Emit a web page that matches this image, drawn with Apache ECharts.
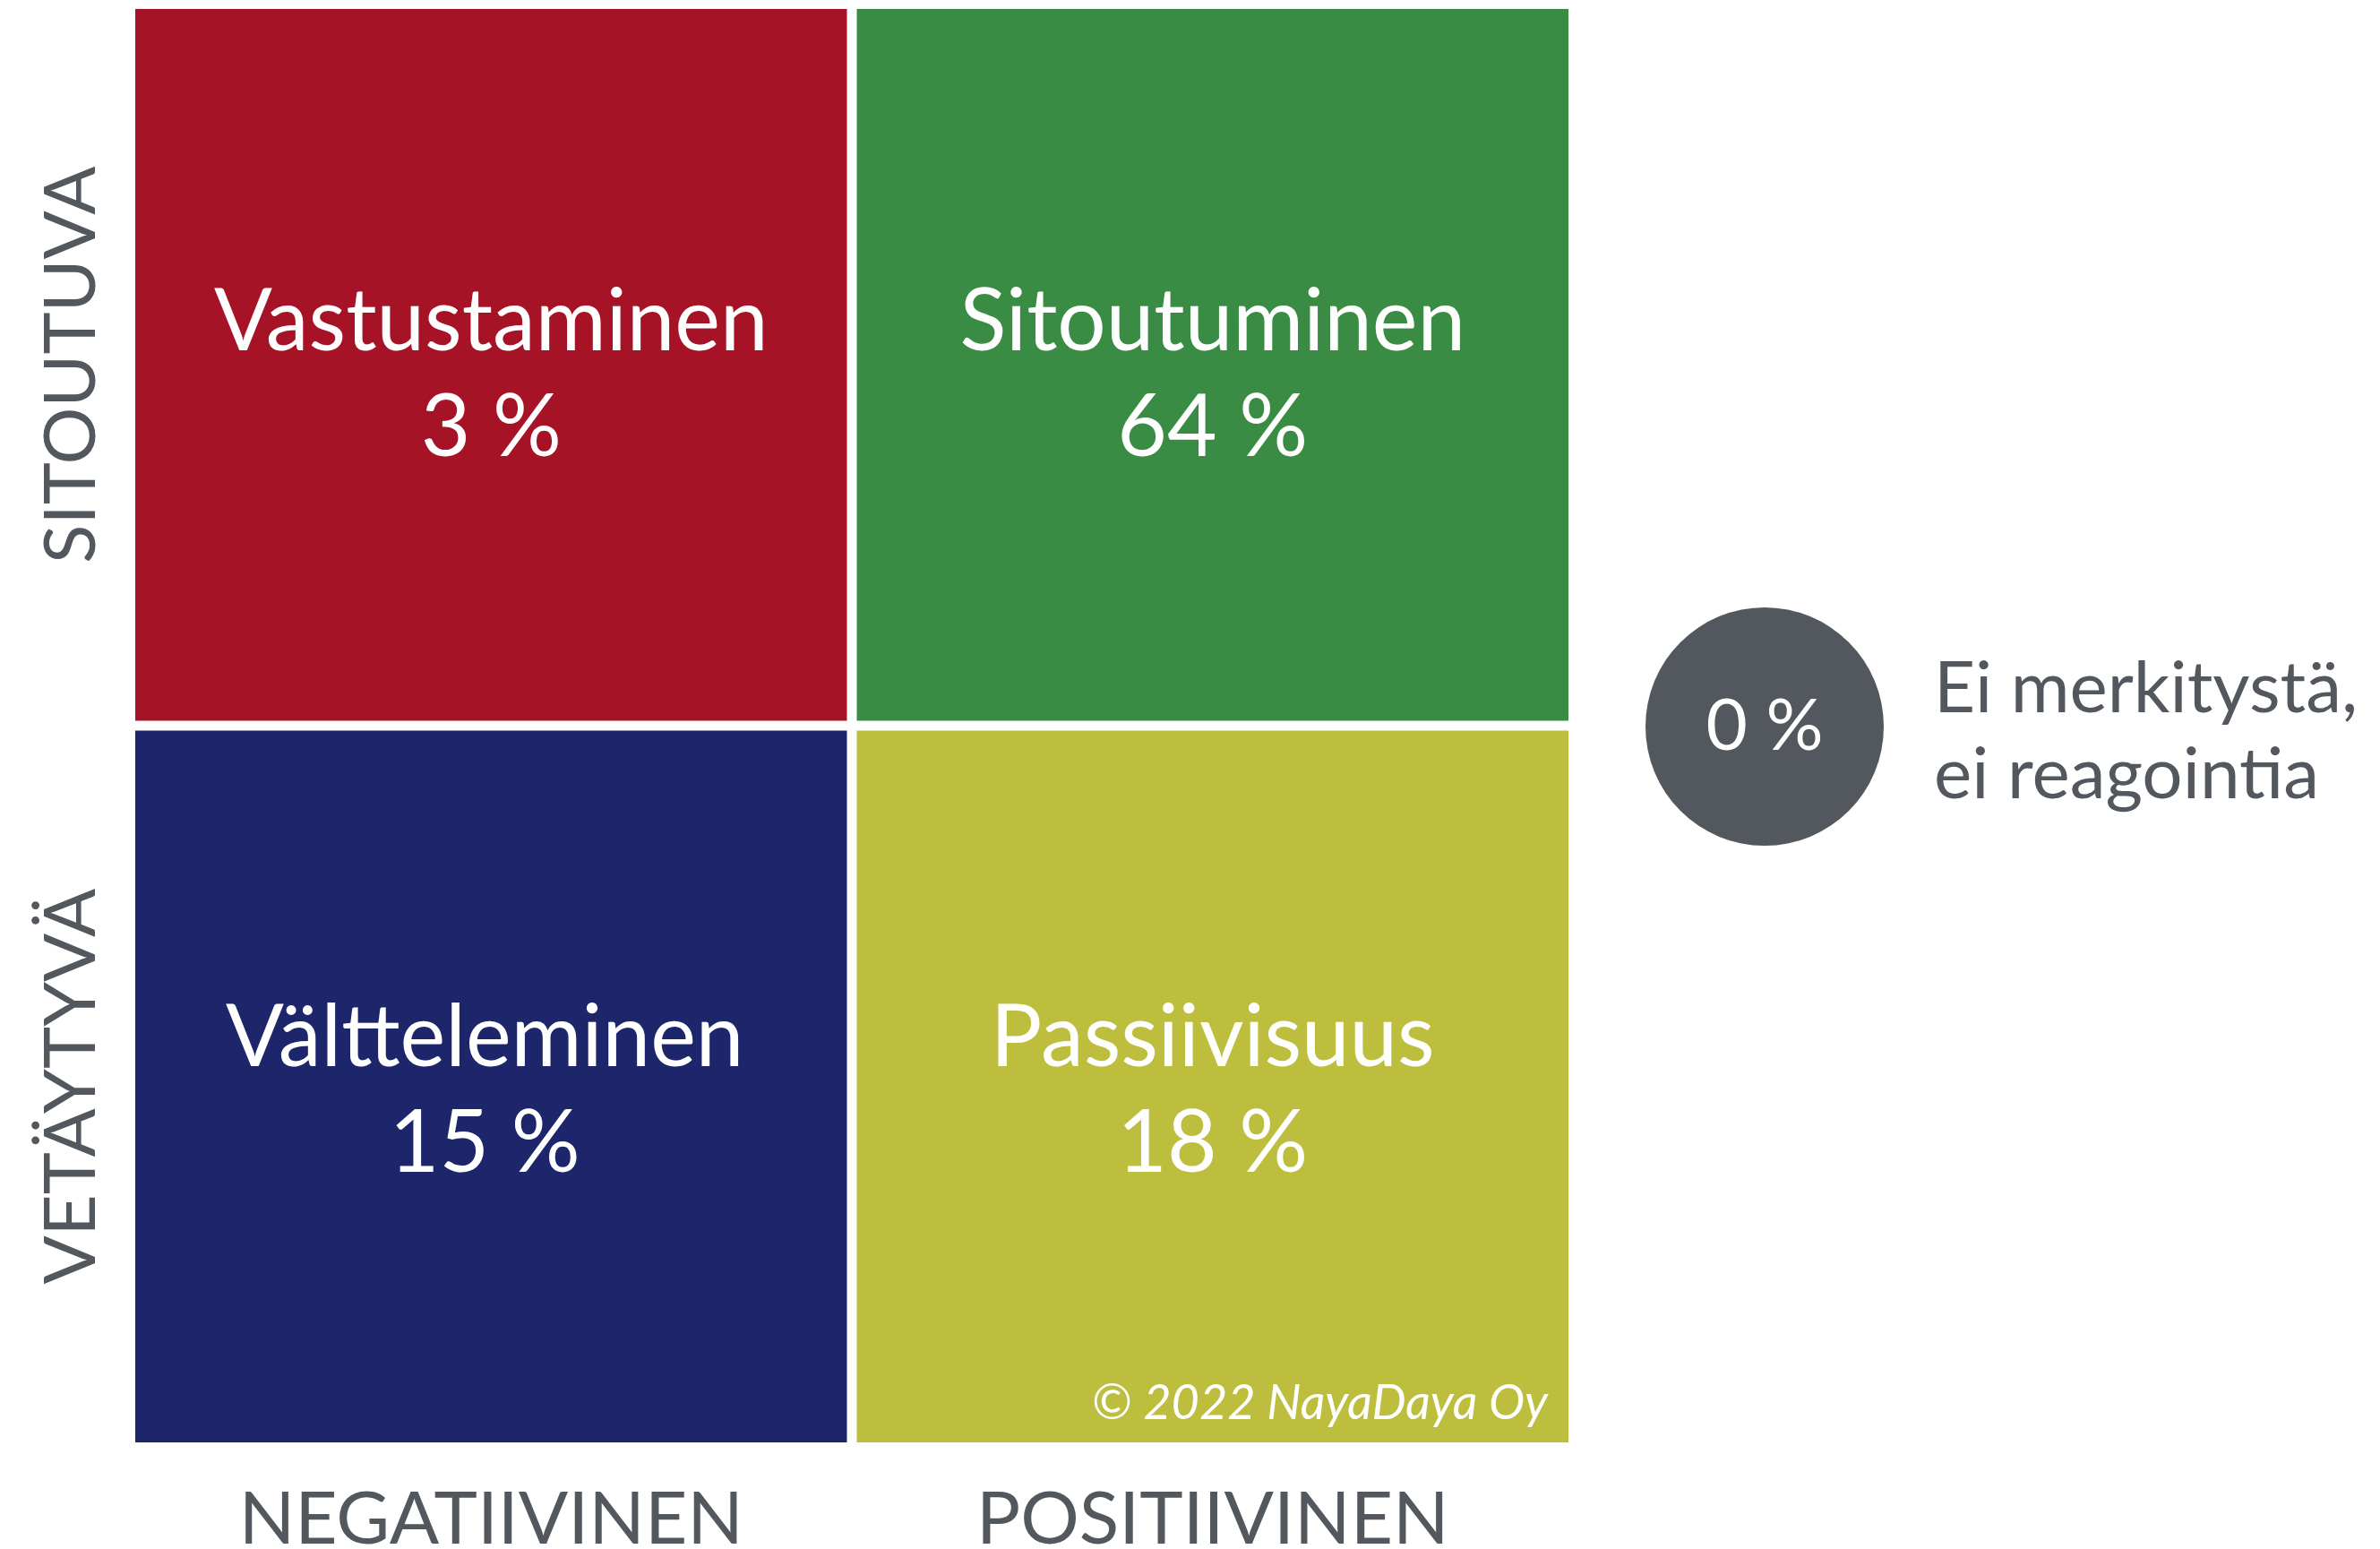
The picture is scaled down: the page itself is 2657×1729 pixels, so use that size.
<!DOCTYPE html>
<html>
<head>
<meta charset="utf-8">
<script src="https://cdn.jsdelivr.net/npm/echarts@6/dist/echarts.min.js"></script>
<style>
  html, body { margin: 0; padding: 0; background: #fff; }
  #chart { width: 2657px; height: 1729px; }
</style>
</head>
<body>
<div id="chart"></div>
<script>
// akselit
const xCats = ['NEGATIIVINEN', 'POSITIIVINEN'];
const yCats = ['VETÄYTYVÄ', 'SITOUTUVA'];

// nelikentän solut
const cellNames = ['Vastustaminen', 'Sitoutuminen', 'Vältteleminen', 'Passiivisuus'];
const cellShares = [3, 64, 15, 18];
const cellCol = [0, 1, 0, 1];
const cellRow = [1, 1, 0, 0];

// ei reagointia -pallo
const noneShare = 0;
const noneLabel = 'Ei merkitystä,\nei reagointia';

const copyright = '© 2022 NayaDaya Oy';

const cellColors = ['#a61326', '#3a8c45', '#1d266a', '#bdbd3e'];
const grey = '#53585f';
const GAP = 11;

let chart = echarts.init(document.getElementById('chart'));

chart.setOption({
  backgroundColor: '#fff',
  animation: false,
  textStyle: { fontFamily: 'Lato' },
  grid: [
    { left: 145.5, top: 4.5, width: 1611, height: 1611, outerBoundsMode: 'none', containLabel: false },
    { left: 1837, top: 678, width: 266, height: 266, outerBoundsMode: 'none', containLabel: false },
  ],
  xAxis: [
    {
      type: 'category',
      gridIndex: 0,
      data: xCats,
      axisLine: { show: false },
      axisTick: { show: false },
      splitLine: { show: false },
      axisLabel: { fontSize: 82, color: grey, fontFamily: 'Lato', margin: 40 },
    },
    { type: 'value', gridIndex: 1, min: -1, max: 1, show: false },
  ],
  yAxis: [
    {
      type: 'category',
      gridIndex: 0,
      data: yCats,
      axisLine: { show: false },
      axisTick: { show: false },
      splitLine: { show: false },
      axisLabel: { fontSize: 80, color: grey, fontFamily: 'Lato', rotate: 90, margin: 25 },
    },
    { type: 'value', gridIndex: 1, min: -1, max: 1, show: false },
  ],
  series: [
    {
      type: 'custom',
      xAxisIndex: 0,
      yAxisIndex: 0,
      data: cellNames.map((n, i) => [cellCol[i], cellRow[i]]),
      renderItem: function (params, api) {
        let i = params.dataIndex;
        let c = api.coord([api.value(0), api.value(1)]);
        let s = api.size([1, 1]);
        let w = s[0] - GAP;
        let h = s[1] - GAP;
        // alarivin tekstit hieman ylempänä
        let dy = api.value(1) === 1 ? 12 : 5;
        let dx = api.value(0) === 0 && api.value(1) === 0 ? -7 : 0;
        return {
          type: 'group',
          children: [
            {
              type: 'rect',
              shape: { x: c[0] - w / 2, y: c[1] - h / 2, width: w, height: h },
              style: { fill: cellColors[i] },
            },
            {
              type: 'text',
              x: c[0] + dx,
              y: c[1] + dy,
              style: {
                text: cellNames[i] + '\n' + cellShares[i] + ' %',
                fill: '#fff',
                fontSize: 96,
                fontFamily: 'Lato',
                lineHeight: 118,
                align: 'center',
                verticalAlign: 'middle',
              },
            },
          ],
        };
      },
    },
    {
      type: 'scatter',
      xAxisIndex: 1,
      yAxisIndex: 1,
      symbolSize: 266,
      itemStyle: { color: grey, opacity: 1 },
      data: [[0, 0, noneShare]],
      label: {
        show: true,
        position: 'inside',
        formatter: (p) => p.value[2] + ' %',
        color: '#fff',
        fontSize: 80,
        fontFamily: 'Lato',
      },
    },
    {
      // selite pallon oikealla puolella
      type: 'scatter',
      xAxisIndex: 1,
      yAxisIndex: 1,
      symbolSize: 0,
      data: [[1, 0]],
      label: {
        show: true,
        position: 'right',
        distance: 56,
        offset: [0, 6],
        formatter: noneLabel,
        color: grey,
        opacity: 1,
        fontSize: 80,
        lineHeight: 96,
        fontFamily: 'Lato',
        align: 'left',
      },
    },
  ],
  graphic: [
    {
      type: 'text',
      right: 2657 - 1728,
      top: 1540,
      z: 100,
      zlevel: 1,
      style: {
        text: copyright,
        fill: '#fff',
        fontSize: 54,
        fontStyle: 'italic',
        fontFamily: 'Lato',
      },
    },
  ],
});
</script>
</body>
</html>
